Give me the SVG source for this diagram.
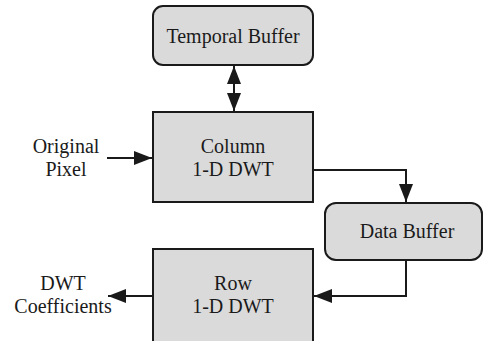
<svg xmlns="http://www.w3.org/2000/svg" width="483" height="341" viewBox="0 0 483 341">
<style>
.box{fill:#dadada;stroke:#1a1a1a;stroke-width:2}
.t{font-family:'Liberation Serif','Times New Roman',Times,'DejaVu Serif',serif;font-size:20px;fill:#1a1a1a;text-anchor:middle}
.c{fill:none;stroke:#1a1a1a;stroke-width:2}
</style>
<defs>
<marker id="ah" markerWidth="18" markerHeight="14" refX="18" refY="7" orient="auto" markerUnits="userSpaceOnUse">
<path d="M0,0 L18,7 L0,14 Z" fill="#1a1a1a"/>
</marker>
<marker id="as" markerWidth="18" markerHeight="14" refX="0" refY="7" orient="auto" markerUnits="userSpaceOnUse">
<path d="M18,0 L0,7 L18,14 Z" fill="#1a1a1a"/>
</marker>
</defs>
<g id="temporal-buffer">
<rect class="box" x="153" y="6" width="160" height="59" rx="10"/>
<text class="t" x="233" y="43" font-family="Liberation Serif, serif">Temporal Buffer</text>
</g>
<g id="column-dwt">
<rect class="box" x="153" y="112" width="160" height="90"/>
<text class="t" x="233" y="153">Column</text>
<text class="t" x="233" y="176">1-D DWT</text>
</g>
<g id="data-buffer">
<rect class="box" x="325" y="203" width="157" height="57" rx="11"/>
<text class="t" x="407" y="238">Data Buffer</text>
</g>
<g id="row-dwt">
<rect class="box" x="153" y="249" width="160" height="100"/>
<text class="t" x="233" y="290">Row</text>
<text class="t" x="233" y="313">1-D DWT</text>
</g>
<g id="original-pixel">
<text class="t" x="66" y="153">Original</text>
<text class="t" x="66" y="176">Pixel</text>
</g>
<g id="dwt-coefficients">
<text class="t" x="63" y="290">DWT</text>
<text class="t" x="63" y="313">Coefficients</text>
</g>
<g id="connectors">
<line class="c" x1="234" y1="66" x2="234" y2="111" marker-start="url(#as)" marker-end="url(#ah)"/>
<line class="c" x1="107" y1="158" x2="152" y2="158" marker-end="url(#ah)"/>
<polyline class="c" points="313,170 406,170 406,202" marker-end="url(#ah)"/>
<polyline class="c" points="406,260 406,296 314,296" marker-end="url(#ah)"/>
<line class="c" x1="153" y1="296" x2="108" y2="296" marker-end="url(#ah)"/>
</g>
</svg>
